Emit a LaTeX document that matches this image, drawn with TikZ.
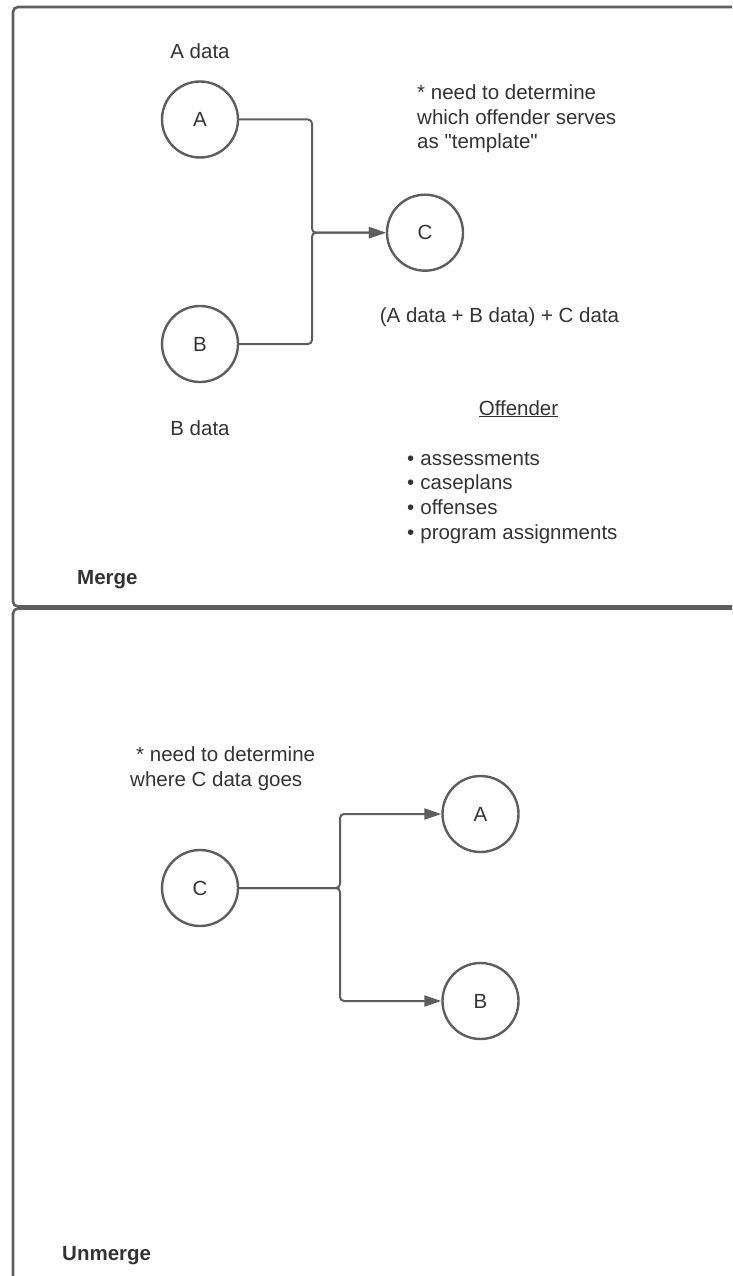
\documentclass[tikz,border=0pt]{standalone}
\usepackage{fontspec}
\setmainfont{Liberation Sans}
\usetikzlibrary{arrows.meta}
\definecolor{linegray}{HTML}{5E5E5E}
\definecolor{textgray}{HTML}{333333}
\tikzset{
  frame/.style={draw=linegray, line width=2.6pt, rounded corners=5pt},
  circ/.style={circle, draw=linegray, line width=2.4pt, minimum size=76pt, inner sep=0pt, text=textgray, font=\fontsize{20.5}{24}\selectfont},
  conn/.style={draw=linegray, line width=2pt, rounded corners=4pt, -{Triangle[length=17pt,width=11pt]}},
  lbl/.style={text=textgray, font=\fontsize{20.5}{24.5}\selectfont, inner sep=0pt, anchor=base west},
  lblc/.style={text=textgray, font=\fontsize{20.5}{24.5}\selectfont, inner sep=0pt, anchor=base},
  title/.style={text=textgray, font=\fontsize{20.5}{24.5}\selectfont\bfseries, inner sep=0pt, anchor=base west},
}
\begin{document}
\begin{tikzpicture}[x=1pt, y=-1pt]
\useasboundingbox (0,0) rectangle (732,1276);
\clip (0,0) rectangle (732,1276);
% frames
\draw[frame] (13,7) rectangle (800,606.5);
\draw[frame] (13,608.5) rectangle (800,1330);

% ---- Merge ----
\node[circ] (A1) at (200,119.5) {A};
\node[circ] (B1) at (200,344) {B};
\node[circ] (C1) at (425,232.7) {C};
\coordinate (J1) at (312,232.7);
\draw[conn] (A1.east) -| (J1) -- (C1.west);
\draw[conn] (B1.east) -| (J1) -- (C1.west);

\node[lblc] (tAd) at (200,59) {A data};
\node[lblc] (tBd) at (200,435) {B data};
\node[lbl] (n1a) at (417,100) {* need to determine};
\node[lbl] (n1b) at (417,125) {which offender serves};
\node[lbl] (n1c) at (417,149) {as \textquotedbl template\textquotedbl};
\node[lblc] (sum) at (499.5,322) {(A data + B data) + C data};
\node[lblc] (off) at (518.5,415) {\underline{Offender}};
\node[lbl] (b1) at (407,465) {\textbullet\hspace{6pt}assessments};
\node[lbl] (b2) at (407,489.7) {\textbullet\hspace{6pt}caseplans};
\node[lbl] (b3) at (407,514.4) {\textbullet\hspace{6pt}offenses};
\node[lbl] (b4) at (407,539) {\textbullet\hspace{6pt}program assignments};
\node[title] (merge) at (77,584) {Merge};

% ---- Unmerge ----
\node[circ] (C2) at (200,888) {C};
\node[circ] (A2) at (480.5,814) {A};
\node[circ] (B2) at (480.5,1001) {B};
\coordinate (J2) at (340,888);
\draw[conn] (C2.east) -- (J2) |- (A2.west);
\draw[conn] (C2.east) -- (J2) |- (B2.west);

\node[lbl] (n2a) at (136,761) {* need to determine};
\node[lbl] (n2b) at (130,786) {where C data goes};
\node[title] (unmerge) at (62,1260) {Unmerge};
\end{tikzpicture}
\end{document}
